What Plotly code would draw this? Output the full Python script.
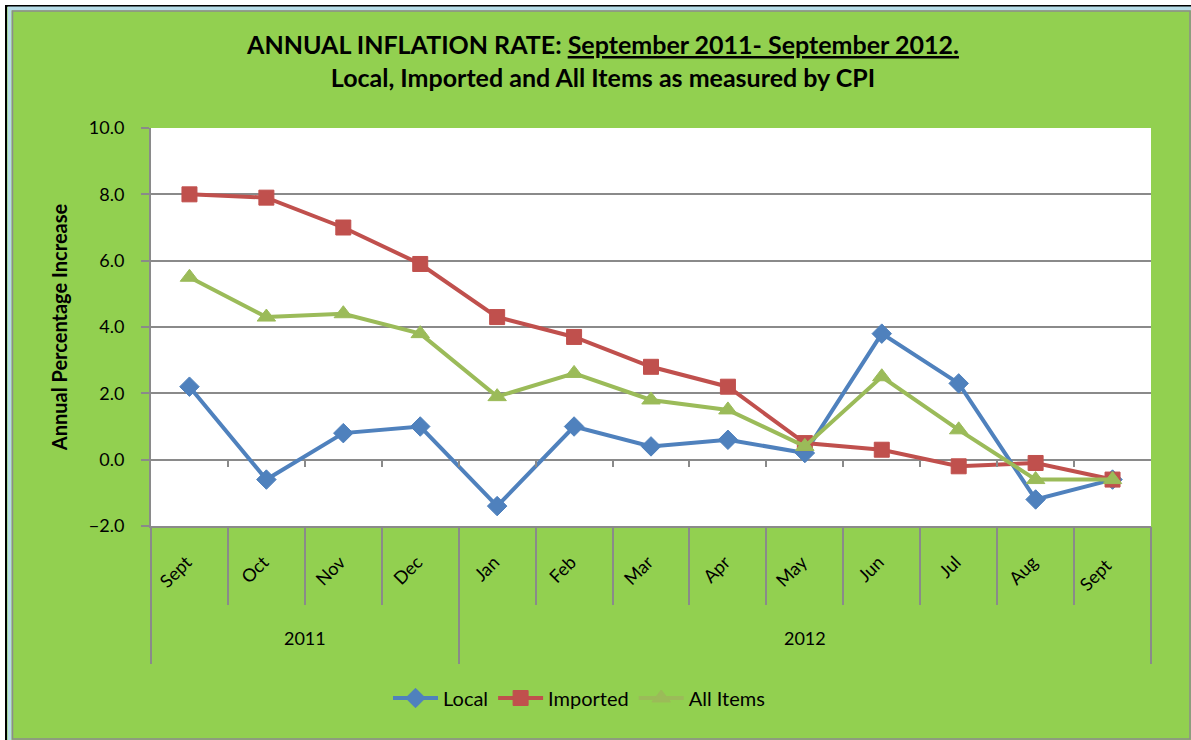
import plotly.graph_objects as go

# ---------------- data ----------------
years = ["2011"] * 4 + ["2012"] * 9
# the trailing space keeps the 2012 "Sept" a distinct category from the 2011 one
months = ["Sept", "Oct", "Nov", "Dec", "Jan", "Feb", "Mar", "Apr", "May", "Jun", "Jul", "Aug", "Sept "]
local = [2.2, -0.6, 0.8, 1.0, -1.4, 1.0, 0.4, 0.6, 0.2, 3.8, 2.3, -1.2, -0.6]
imported = [8.0, 7.9, 7.0, 5.9, 4.3, 3.7, 2.8, 2.2, 0.5, 0.3, -0.2, -0.1, -0.6]
all_items = [5.5, 4.3, 4.4, 3.8, 1.9, 2.6, 1.8, 1.5, 0.4, 2.5, 0.9, -0.6, -0.6]
y_ticks = [-2, 0, 2, 4, 6, 8, 10]

# ---------------- layout constants ----------------
W, H = 1191, 740
L, R, T, B = 151, 40, 128, 214
PW, PH = W - L - R, H - T - B
FONT = "Lato, 'Open Sans', sans-serif"
GREEN_BG = "#92D050"
GRID = "#8a8a8a"
ymin, ymax = y_ticks[0], y_ticks[-1]
n = len(months)
xrange_ = [-0.5, n - 0.5]


def px_x(p):
    return (p - L) / PW


def px_y(p):
    return (H - B - p) / PH


# year groups derived from the years list
year_labels, year_first, year_last = [], [], []
for i, yv in enumerate(years):
    if not year_labels or year_labels[-1] != yv:
        year_labels.append(yv)
        year_first.append(i)
        year_last.append(i)
    else:
        year_last[-1] = i
year_centers = [(a + b) / 2 for a, b in zip(year_first, year_last)]
year_bounds = [a - 0.5 for a in year_first] + [year_last[-1] + 0.5]
month_bounds = [i + 0.5 for i in range(n - 1)]

fig = go.Figure()
series = [
    ("Local", local, "#4F81BD", "diamond", 15),
    ("Imported", imported, "#C0504D", "square", 15),
    ("All Items", all_items, "#9BBB59", "triangle-up", 16),
]
for name, vals, col, sym, sz in series:
    fig.add_trace(go.Scatter(
        x=months, y=vals, name=name, mode="lines+markers",
        line=dict(color=col, width=4),
        marker=dict(symbol=sym, size=sz, color=col, line=dict(color=col, width=1)),
    ))

# empty helper traces so that the overlay axes (ticks / year band) get drawn
for ax in ["x2", "x3", "x4"]:
    fig.add_trace(go.Scatter(x=[None], y=[None], xaxis=ax, yaxis="y", mode="markers",
                             showlegend=False, hoverinfo="skip"))

fig.update_layout(
    width=W, height=H,
    margin=dict(l=L, r=R, t=T, b=B, autoexpand=False),
    paper_bgcolor=GREEN_BG,
    plot_bgcolor="white",
    font=dict(family=FONT, color="black", size=18),
    title=dict(
        text="<b>ANNUAL INFLATION RATE: <span style='text-decoration:underline'>September 2011- September 2012.</span>"
             "<br>Local, Imported and All Items as measured by CPI</b>",
        x=603 / W, xref="container", xanchor="center",
        y=1 - 54 / H, yref="container", yanchor="middle",
        font=dict(family=FONT, size=25, color="black"),
    ),
    showlegend=True,
    legend=dict(
        orientation="h", x=px_x(579), xanchor="center", y=px_y(698), yanchor="middle",
        font=dict(family=FONT, size=20, color="black"), bgcolor="rgba(0,0,0,0)",
        itemwidth=45,
    ),
    # month labels
    xaxis=dict(
        type="category", range=xrange_, showline=True, linecolor=GRID, linewidth=1.5,
        ticks="", tickangle=-45, tickfont=dict(family=FONT, size=18),
        showgrid=False, automargin=False, ticklabelstandoff=17, ticklabelshift=-3,
    ),
    # tick marks between months
    xaxis2=dict(
        overlaying="x", anchor="y", range=xrange_, type="linear",
        tickvals=month_bounds, ticks="outside", ticklen=78, tickcolor=GRID, tickwidth=2,
        showticklabels=False, showgrid=False, showline=False, zeroline=False,
    ),
    # small tick marks on the zero line
    xaxis3=dict(
        overlaying="x", anchor="free", position=(0 - ymin) / (ymax - ymin),
        range=xrange_, type="linear",
        tickvals=month_bounds, ticks="outside", ticklen=6, tickcolor=GRID, tickwidth=1.5,
        showticklabels=False, showgrid=False, showline=False, zeroline=False,
    ),
    # year labels and year dividers
    xaxis4=dict(
        overlaying="x", anchor="y", range=xrange_, type="linear",
        tickvals=year_centers, ticktext=year_labels, ticks="",
        tickfont=dict(family=FONT, size=18), ticklabelstandoff=100,
        minor=dict(tickvals=year_bounds, ticks="outside", ticklen=137, tickcolor=GRID, tickwidth=2),
        showgrid=False, showline=False, zeroline=False,
    ),
    yaxis=dict(
        range=[ymin, ymax], tickvals=y_ticks, tickformat=".1f",
        showline=True, linecolor=GRID, linewidth=2,
        showgrid=True, gridcolor=GRID, gridwidth=1.5, zeroline=False,
        ticks="outside", ticklen=8, tickcolor=GRID, tickwidth=1.5,
        tickfont=dict(family=FONT, size=18), ticklabelstandoff=13,
        title=dict(text="<b>Annual Percentage Increase</b>", font=dict(family=FONT, size=20), standoff=16),
        automargin=False,
    ),
)

# frame decoration (outer white margin, black line, light-blue band, grey edge)
shapes = [
    dict(type="rect", xref="paper", yref="paper", x0=px_x(0), x1=px_x(2000), y0=px_y(0), y1=px_y(2000),
         line=dict(color="white", width=10), fillcolor="rgba(0,0,0,0)", layer="above"),
    dict(type="rect", xref="paper", yref="paper", x0=px_x(6), x1=px_x(1400), y0=px_y(6), y1=px_y(1400),
         line=dict(color="black", width=2), fillcolor="rgba(0,0,0,0)", layer="above"),
    dict(type="rect", xref="paper", yref="paper", x0=px_x(9.5), x1=px_x(1400), y0=px_y(8.5), y1=px_y(1400),
         line=dict(color="#B7DDE8", width=4), fillcolor="rgba(0,0,0,0)", layer="above"),
    dict(type="rect", xref="paper", yref="paper", x0=px_x(12.5), x1=px_x(1190), y0=px_y(11), y1=px_y(739),
         line=dict(color="#8c8c8c", width=1.5), fillcolor="rgba(0,0,0,0)", layer="above"),
]
fig.update_layout(shapes=shapes)

fig.write_html(
    "out.html",
    config={"displayModeBar": False},
    post_script="document.body.style.margin='0';document.body.style.overflow='hidden';",
)
